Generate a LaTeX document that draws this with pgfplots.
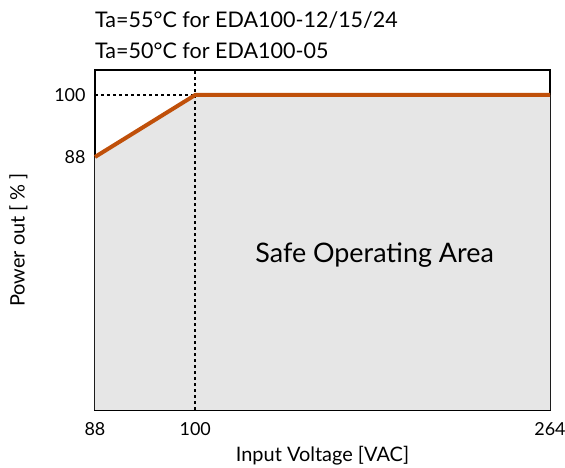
\documentclass[border=0pt]{standalone}
\usepackage{fontspec}
\setmainfont{Lato}
\usepackage{pgfplots}
\pgfplotsset{compat=1.18}
\definecolor{orng}{HTML}{C0500A}
\definecolor{safe}{HTML}{E6E6E6}
\begin{document}
\begin{tikzpicture}[x=1bp,y=1bp]
\useasboundingbox (-95,-58) rectangle (470,410);
\begin{axis}[
  at={(0,0)}, anchor=south west,
  width=455bp, height=340bp, scale only axis,
  % x positions: 88 VAC -> 0, 100 VAC -> 100, 264 VAC -> 454 (non-linear scale of the original)
  xmin=0, xmax=454, ymin=39, ymax=104.84,
  xtick={0,100,454}, ytick={88,100},
  xticklabels={88,100,264}, yticklabels={88,100},
  major tick length=0pt,
  ticklabel style={font=\fontsize{18}{21}\selectfont},
  xticklabel style={yshift=-9bp},
  yticklabel style={xshift=-6bp},
  axis line style={line width=1.3bp},
  xlabel={Input Voltage [VAC]}, ylabel={Power out [ \% ]},
  label style={font=\fontsize{20}{24}\selectfont},
  xlabel style={yshift=-4bp},
  ylabel style={yshift=20bp},
  clip=false,
]
\addplot[fill=safe, draw=none] coordinates {(0,39) (0,88) (100,100) (454,100) (454,39)} -- cycle;
\addplot[black, line width=1.6bp, dash pattern=on 3bp off 3bp] coordinates {(0,100) (100,100)};
\addplot[black, line width=1.6bp, dash pattern=on 3bp off 3bp] coordinates {(100,39) (100,104.84)};
\addplot[orng, line width=4bp] coordinates {(0,88) (100,100) (454,100)};
\node[font=\fontsize{27}{32}\selectfont, anchor=center] at (axis cs:279,69) {Safe Operating Area};
\end{axis}
\node[anchor=base west, font=\fontsize{21.6}{25}\selectfont, inner sep=0pt] at (0,382) {Ta=55\textdegree C for EDA100-12/15/24};
\node[anchor=base west, font=\fontsize{21.6}{25}\selectfont, inner sep=0pt] at (0,351) {Ta=50\textdegree C for EDA100-05};
\end{tikzpicture}
\end{document}
